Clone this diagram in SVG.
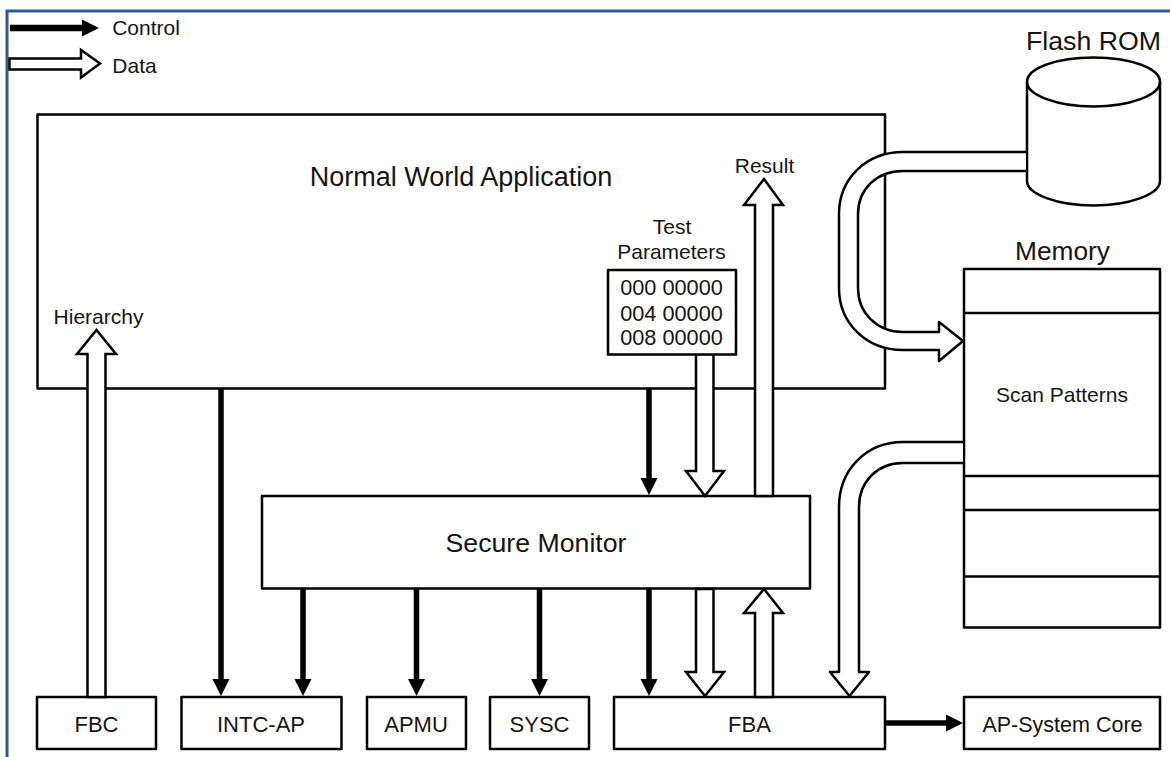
<svg xmlns="http://www.w3.org/2000/svg" width="1170" height="757" viewBox="0 0 1170 757">
<defs>
<marker id="ctl" markerUnits="userSpaceOnUse" markerWidth="18" markerHeight="18" refX="1" refY="9" orient="auto"><path d="M0 0.500L17 9L0 17.500Z" fill="#000"/></marker>
</defs>
<style>
text{font-family:"Liberation Sans",Arial,sans-serif;fill:#151515;text-anchor:middle}
.b{fill:#fff;stroke:#000;stroke-width:2.5;stroke-linejoin:round}
.o{fill:none;stroke:#000;stroke-width:2.5;stroke-linejoin:round}
.p{fill:#fff;stroke:#000;stroke-width:2.5;stroke-linejoin:miter}
.l{fill:none;stroke:#000;stroke-width:5.5}
.e{fill:#fff;stroke:none}
</style>
<rect width="1170" height="757" fill="#fff"/>
<path d="M7 757V11H1170" fill="none" stroke="#2f5b90" stroke-width="3"/>

<g id="legend">
<path class="l" d="M10 28H83" marker-end="url(#ctl)" style="stroke-width:6.500"/>
<path class="p" d="M9.500 58.500H81V50L100 63.500L81 77.500V69.500H9.500Z"/>
<text x="146" y="35" font-size="21">Control</text>
<text x="134.500" y="73" font-size="21">Data</text>
</g>

<g id="normal-world">
<rect class="b" x="37.500" y="114.500" width="847.500" height="274"/>
<text x="461" y="186" font-size="27">Normal World Application</text>
</g>
<g id="secure-monitor">
<rect class="b" x="262" y="496" width="548" height="92.500"/>
<text x="536" y="552" font-size="26.700">Secure Monitor</text>
</g>
<g id="fbc"><rect class="b" x="37" y="697" width="119" height="52"/><text x="96.500" y="732" font-size="22">FBC</text></g>
<g id="intc-ap"><rect class="b" x="181.500" y="697" width="160" height="52"/><text x="261" y="732" font-size="22">INTC-AP</text></g>
<g id="apmu"><rect class="b" x="367" y="697" width="99" height="52"/><text x="416" y="732" font-size="22">APMU</text></g>
<g id="sysc"><rect class="b" x="490" y="697" width="99" height="52"/><text x="539.500" y="732" font-size="22">SYSC</text></g>
<g id="fba"><rect class="b" x="614" y="697" width="271" height="52"/><text x="749.500" y="732" font-size="22">FBA</text></g>
<g id="ap-system-core"><rect class="b" x="964" y="697" width="196" height="52"/><text x="1062.500" y="732" font-size="21.500">AP-System Core</text></g>

<g id="flash-rom">
<text x="1093.500" y="50" font-size="26.700">Flash ROM</text>
<path class="b" d="M1027 82V181C1027 194 1057 205.500 1093.500 205.500C1130 205.500 1160 194 1160 181V82C1160 68 1130 57.500 1093.500 57.500C1057 57.500 1027 68 1027 82Z"/>
<path class="o" d="M1027 82C1027 95 1057 106.500 1093.500 106.500C1130 106.500 1160 95 1160 82"/>
</g>

<g id="memory">
<text x="1062.500" y="260" font-size="26.300">Memory</text>
<rect class="b" x="964" y="269" width="196" height="358.500"/>
<path class="o" d="M964 313H1160M964 476H1160M964 510H1160M964 576.500H1160"/>
<text x="1062" y="402" font-size="21">Scan Patterns</text>
</g>

<g id="connectors">
<path class="l" d="M221 389V680" marker-end="url(#ctl)"/>
<path class="l" d="M303 589V680" marker-end="url(#ctl)"/>
<path class="l" d="M416.500 589V680" marker-end="url(#ctl)"/>
<path class="l" d="M539.500 589V680" marker-end="url(#ctl)"/>
<path class="l" d="M649 589V680" marker-end="url(#ctl)"/>
<path class="l" d="M649 389V479" marker-end="url(#ctl)"/>
<path class="l" d="M886 723H947" marker-end="url(#ctl)"/>

<path class="p" d="M87.500 697V354H77L96.500 330L116 354H105.500V697Z"/>
<path class="p" d="M755 496V205H744L764 179L783 205H773V496Z"/>
<path class="p" d="M755 697V613H744L764 589L783 613H773V697Z"/>
<path class="p" d="M696 589V672H686L705 696L724 672H713.500V589Z"/>

<path class="e" d="M1026 152H903C866 152 839 179 839 214V288C839 323 866 350 903 350H939V361L963 341L939 322V332H903C877 332 858 313 858 288V214C858 189 877 171 903 171H1026Z"/>
<path class="o" d="M1026 152H903C866 152 839 179 839 214V288C839 323 866 350 903 350H939V361L963 341L939 322V332H903C877 332 858 313 858 288V214C858 189 877 171 903 171H1026"/>

<path class="e" d="M963 442H903C866 442 839 470 839 507V672H830L849.500 696L869 672H859V507C859 482 877 463 903 463H963Z"/>
<path class="o" d="M963 442H903C866 442 839 470 839 507V672H830L849.500 696L869 672H859V507C859 482 877 463 903 463H963"/>
</g>

<g id="test-parameters">
<path class="p" d="M696 354V471H686L705 496L724 471H713.500V354Z"/>
<text x="672" y="234" font-size="21">Test</text>
<text x="671.500" y="259" font-size="21">Parameters</text>
<rect class="b" x="608" y="270" width="128" height="84.500"/>
<text x="671.500" y="295" font-size="21.700">000 00000</text>
<text x="671.500" y="321" font-size="21.700">004 00000</text>
<text x="671.500" y="345" font-size="21.700">008 00000</text>
</g>
<text x="98.500" y="324" font-size="21">Hierarchy</text>
<text x="764.500" y="173" font-size="21">Result</text>
</svg>
